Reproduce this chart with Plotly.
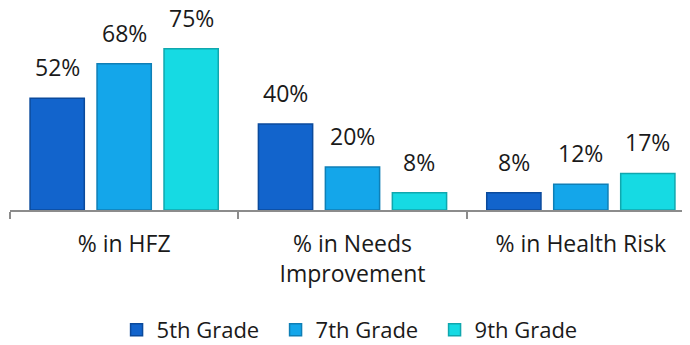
import plotly.graph_objects as go

categories = ["% in HFZ", "% in Needs<br>Improvement", "% in Health Risk"]
series_names = ["5th Grade", "7th Grade", "9th Grade"]
grade5 = [52, 40, 8]
grade7 = [68, 20, 12]
grade9 = [75, 8, 17]
series_values = [grade5, grade7, grade9]
colors = ["#1264CC", "#14A6EA", "#16DAE3"]
line_colors = ["#0B4A9C", "#0F7FB6", "#10A7AE"]

FONT = "Open Sans"
BARGAP = 0.12
BARGROUPGAP = 0.19

fig = go.Figure()
for name, vals, c, lc in zip(series_names, series_values, colors, line_colors):
    fig.add_trace(go.Bar(
        name=name, x=categories, y=vals,
        marker=dict(color=c, line=dict(color=lc, width=1.5)),
        hoverinfo="skip",
    ))

# value labels above bars (category index + group offset)
slot = (1 - BARGAP) / len(series_values)
for i, vals in enumerate(series_values):
    off = (i - (len(series_values) - 1) / 2) * slot
    for j, v in enumerate(vals):
        fig.add_annotation(x=j + off, y=v, text=f"{v}%", showarrow=False,
                           yanchor="bottom", yshift=14, borderpad=0,
                           font=dict(family=FONT, size=23, color="#1a1a1a"))

fig.update_layout(
    width=690, height=345,
    margin=dict(l=2, r=3, t=30, b=143, autoexpand=False),
    paper_bgcolor="white", plot_bgcolor="white",
    barmode="group", bargap=BARGAP, bargroupgap=BARGROUPGAP,
    font=dict(family=FONT, size=22, color="#1a1a1a"),
    showlegend=True,
    legend=dict(orientation="h", xref="container", yref="container",
                x=0.503, xanchor="center", y=0.067, yanchor="middle",
                font=dict(family=FONT, size=22, color="#1a1a1a"),
                itemwidth=30, entrywidth=114, traceorder="normal"),
    xaxis=dict(
        type="category", categoryorder="array", categoryarray=categories,
        range=[-0.5, 2.5], showline=True, linecolor="#8c8c8c", linewidth=2,
        ticks="outside", tickson="boundaries", ticklen=7,
        tickcolor="#8c8c8c", tickwidth=2,
        ticklabelstandoff=12, automargin=False,
        showgrid=False, zeroline=False,
        tickfont=dict(family=FONT, size=23, color="#1a1a1a"),
    ),
    yaxis=dict(range=[0, 80], visible=False, showgrid=False, zeroline=False,
               automargin=False),
)
fig.write_html("out.html")
